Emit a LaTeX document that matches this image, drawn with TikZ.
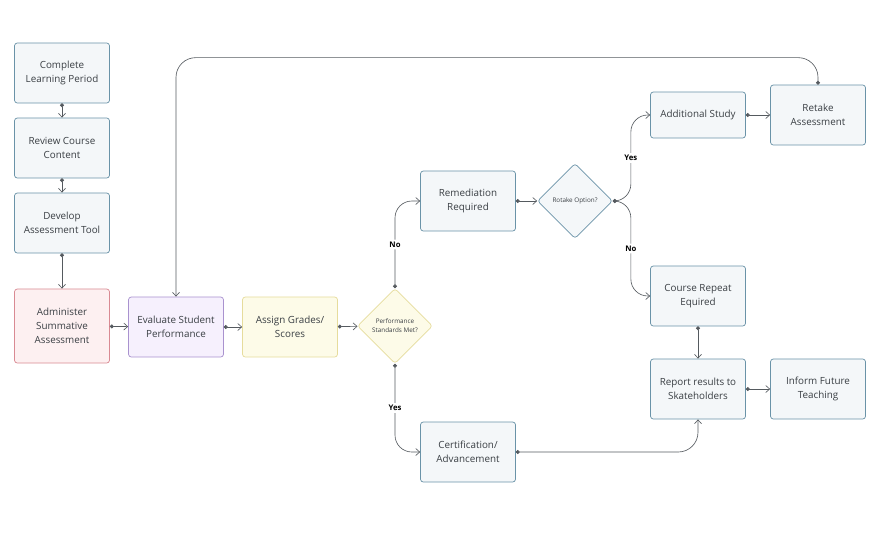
\documentclass[tikz,border=0pt]{standalone}
\usepackage{fontspec}
\setmainfont{Open Sans}
\usepackage{xcolor}
\definecolor{BoxFill}{HTML}{F4F7F9}
\definecolor{BoxLine}{HTML}{6A93A8}
\definecolor{RedFill}{HTML}{FDF0F1}
\definecolor{RedLine}{HTML}{D98A93}
\definecolor{PurFill}{HTML}{F6F0FD}
\definecolor{PurLine}{HTML}{A992CF}
\definecolor{YelFill}{HTML}{FDFBE8}
\definecolor{YelLine}{HTML}{E6DC9C}
\definecolor{Ink}{HTML}{3A3F44}
\definecolor{Wire}{HTML}{555A5F}
\usetikzlibrary{shapes.geometric,arrows.meta}
\newcommand*{\mytextstyle}{\fontsize{7pt}{10pt}\selectfont\color{Ink}}

\begin{document}
\begin{tikzpicture}[x=0.025cm, y=-0.025cm,
  stepbox/.style = {draw = BoxLine, fill = BoxFill, rounded corners = 2pt,
    line width = 0.5pt, minimum width = 2.375cm, minimum height = 1.5cm,
    align = center, font = \mytextstyle},
  choice/.style = {diamond, draw = BoxLine, fill = BoxFill, rounded corners = 2pt,
    line width = 0.5pt, minimum width = 1.875cm, minimum height = 1.875cm,
    inner sep = 0pt, align = center, font = \fontsize{4.5pt}{6.5pt}\selectfont\color{Ink}},
  link/.style = {draw = Wire, line width = 0.45pt,
    {Circle[length = 2.8pt]}-{Straight Barb[length = 2.8pt, width = 5pt]}},
  answer/.style = {fill = white, inner sep = 1.5pt,
    font = \fontsize{5.5pt}{6pt}\selectfont\bfseries\color{black}}]
  \useasboundingbox (0,0) rectangle (880,540);

  % left column
  \node[stepbox] (clp) at (62,73)  {Complete\\Learning Period};
  \node[stepbox] (rcc) at (62,148) {Review Course\\Content};
  \node[stepbox] (dat) at (62,223) {Develop\\Assessment Tool};
  \node[stepbox, draw = RedLine, fill = RedFill, minimum height = 1.85cm]
    (asa) at (62,326) {Administer\\Summative\\Assessment};

  % middle row
  \node[stepbox, draw = PurLine, fill = PurFill] (esp) at (176,327) {Evaluate Student\\Performance};
  \node[stepbox, draw = YelLine, fill = YelFill] (ags) at (290,327) {Assign Grades/\\Scores};
  \node[choice, draw = YelLine, fill = YelFill] (psm) at (395,326) {Performance\\Standards Met?};

  % branches
  \node[stepbox] (rem) at (468,201) {Remediation\\Required};
  \node[choice]  (rot) at (575,201) {Rotake Option?};
  \node[stepbox] (cer) at (468,452) {Certification/\\Advancement};
  \node[stepbox, minimum height = 1.15cm] (add) at (698,115) {Additional Study};
  \node[stepbox] (ret) at (818,115) {Retake\\Assessment};
  \node[stepbox] (crq) at (698,296) {Course Repeat\\Equired};
  \node[stepbox] (rep) at (698,389) {Report results to\\Skateholders};
  \node[stepbox] (inf) at (818,389) {Inform Future\\Teaching};

  % connectors
  \draw[link] (clp) -- (rcc);
  \draw[link] (rcc) -- (dat);
  \draw[link] (dat) -- (asa);
  \draw[link] (asa) -- (esp);
  \draw[link] (esp) -- (ags);
  \draw[link] (ags) -- (psm);
  \draw[link, rounded corners = 12pt] (psm.north) |- (rem.west)
    node[answer, pos = 0.25] {No};
  \draw[link, rounded corners = 12pt] (psm.south) |- (cer.west)
    node[answer, pos = 0.25] {Yes};
  \draw[link] (rem) -- (rot);
  \draw[link, rounded corners = 12pt] (rot.east) -- ++(18,0) |- (add.west)
    node[answer, pos = 0.25] {Yes};
  \draw[link, rounded corners = 12pt] (rot.east) -- ++(18,0) |- (crq.west)
    node[answer, pos = 0.25] {No};
  \draw[link] (add) -- (ret);
  \draw[link, rounded corners = 14pt] (ret.north) -- ++(0,-27) -| (esp.north);
  \draw[link] (crq) -- (rep);
  \draw[link, rounded corners = 14pt] (cer.east) -| (rep.south);
  \draw[link] (rep) -- (inf);
\end{tikzpicture}
\end{document}
